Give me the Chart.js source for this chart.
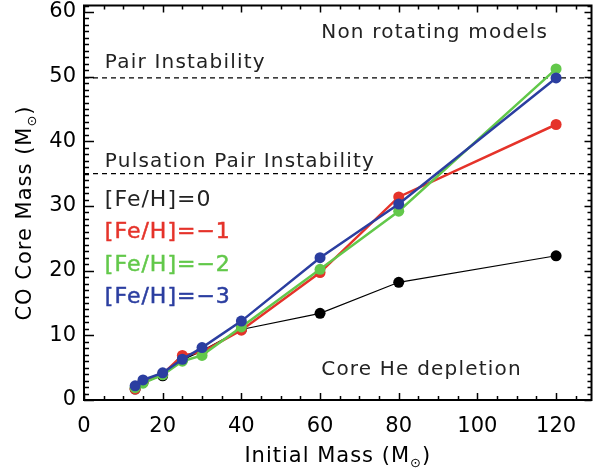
<!DOCTYPE html>
<html>
<head>
<meta charset="utf-8">
<script src="https://cdn.jsdelivr.net/npm/chart.js@4/dist/chart.umd.min.js"></script>
<style>
  body { margin: 0; background: #fff; }
</style>
</head>
<body>
<canvas id="coreChart" width="597" height="470"></canvas>
<script>
// Initial masses of the non rotating models (Msun)
const masses = [13, 15, 20, 25, 30, 40, 60, 80, 120];

// CO core mass at core He depletion for each metallicity
const coreFe0 = [1.7, 2.8, 3.75, 6.2, 7.6, 10.9, 13.4, 18.2, 22.3];
const coreFe1 = [1.7, 2.7, 4.0, 6.9, 7.4, 10.8, 19.7, 31.4, 42.6];
const coreFe2 = [1.9, 2.6, 3.9, 6.0, 6.9, 11.3, 20.2, 29.2, 51.2];
const coreFe3 = [2.2, 3.1, 4.2, 6.3, 8.1, 12.2, 22.0, 30.3, 49.8];

// Instability thresholds (horizontal dashed lines)
const pairLimit = 49.8;
const pulsationLimit = 35.0;

// Axis ranges and tick values
const xRange = [0, 129];
const yRange = [0, 61];
const xTicks = [0, 20, 40, 60, 80, 100, 120];
const yTicks = [0, 10, 20, 30, 40, 50, 60];

const seriesNames = ['[Fe/H]=0', '[Fe/H]=\u22121', '[Fe/H]=\u22122', '[Fe/H]=\u22123'];
const seriesColors = ['#000000', '#e5332a', '#62c84a', '#2b3ea0'];

const FONT = "'DejaVu Sans', sans-serif";

function pts(ys) {
  return masses.map((m, i) => ({ x: m, y: ys[i] }));
}

function series(name, ys, color, width, order) {
  return {
    label: name,
    data: pts(ys),
    borderColor: color,
    backgroundColor: color,
    borderWidth: width,
    pointRadius: 5.5,
    pointHoverRadius: 5.5,
    pointBorderWidth: 0,
    order: order
  };
}

function threshold(y) {
  return {
    label: 'limit',
    data: [{ x: xRange[0], y: y }, { x: xRange[1], y: y }],
    borderColor: '#000',
    borderWidth: 1.2,
    borderDash: [5, 4],
    pointRadius: 0,
    order: 5
  };
}

// text placed in data coordinates: [text, x, baseline y]
const notes = [
  ['Non rotating models', 60.3, 55.9],
  ['Pair Instability', 5.3, 51.3],
  ['Pulsation Pair Instability', 5.3, 36.1],
  ['Core He depletion', 60.3, 3.86]
];

function drawText(ctx, text, x, y, font, color, spacing, heavy) {
  ctx.save();
  ctx.font = font;
  ctx.fillStyle = color;
  ctx.letterSpacing = spacing + 'px';
  ctx.textAlign = 'left';
  ctx.textBaseline = 'alphabetic';
  ctx.fillText(text, x, y);
  if (heavy) {
    ctx.strokeStyle = color;
    ctx.lineWidth = heavy;
    ctx.strokeText(text, x, y);
  }
  ctx.restore();
}

// "label (M_sun)" title, centred on (cx, baseline)
function drawMassTitle(ctx, text, cx, baseline) {
  ctx.save();
  ctx.letterSpacing = '1px';
  ctx.fillStyle = '#000';
  const main = '21px ' + FONT, sub = '13px ' + FONT;
  ctx.font = main;
  const w1 = ctx.measureText(text + ' (M').width;
  const w3 = ctx.measureText(')').width;
  ctx.font = sub;
  const w2 = ctx.measureText('\u2299').width;
  let x = cx - (w1 + w2 + w3) / 2;
  ctx.textBaseline = 'alphabetic';
  ctx.font = main;
  ctx.fillText(text + ' (M', x, baseline);
  x += w1;
  ctx.font = sub;
  ctx.fillText('\u2299', x, baseline + 5);
  x += w2;
  ctx.font = main;
  ctx.fillText(')', x, baseline);
  ctx.restore();
}

const framePlugin = {
  id: 'frame',
  afterDraw(chart) {
    const { ctx, chartArea: a, scales: { x, y } } = chart;
    ctx.save();
    ctx.strokeStyle = '#000';

    // minor and major ticks pointing inward on all four sides
    ctx.lineWidth = 1.5;
    ctx.beginPath();
    for (let v = xRange[0]; v <= xRange[1]; v += 5) {
      const px = Math.round(x.getPixelForValue(v)) + 0.5;
      const len = v % 20 === 0 ? 7 : 4;
      ctx.moveTo(px, a.bottom); ctx.lineTo(px, a.bottom - len);
      ctx.moveTo(px, a.top); ctx.lineTo(px, a.top + len);
    }
    for (let v = yRange[0]; v <= yRange[1]; v += 1) {
      const py = Math.round(y.getPixelForValue(v)) + 0.5;
      const major = v % 10 === 0;
      ctx.moveTo(a.left, py); ctx.lineTo(a.left + (major ? 10 : 5), py);
      ctx.moveTo(a.right, py); ctx.lineTo(a.right - (major ? 7 : 4), py);
    }
    ctx.stroke();

    ctx.lineWidth = 2;
    ctx.strokeRect(a.left, a.top, a.right - a.left, a.bottom - a.top);
    ctx.restore();

    notes.forEach(([t, vx, vy]) => {
      drawText(ctx, t, x.getPixelForValue(vx), y.getPixelForValue(vy),
        '20px ' + FONT, '#222', 1.2, 0);
    });

    // metallicity key
    seriesNames.forEach((t, i) => {
      drawText(ctx, t, x.getPixelForValue(5.3), y.getPixelForValue(30 - 5 * i),
        '22px ' + FONT, i === 0 ? '#222' : seriesColors[i], 1, i === 0 ? 0 : 0.5);
    });

    // axis titles
    drawMassTitle(ctx, 'Initial Mass', (a.left + a.right) / 2, 462);
    ctx.save();
    ctx.translate(31, 213);
    ctx.rotate(-Math.PI / 2);
    drawMassTitle(ctx, 'CO Core Mass', 0, 0);
    ctx.restore();
  }
};

const ctx = document.getElementById('coreChart').getContext('2d');

new Chart(ctx, {
  type: 'line',
  data: {
    datasets: [
      series(seriesNames[3], coreFe3, seriesColors[3], 2.5, 0),
      series(seriesNames[2], coreFe2, seriesColors[2], 2.5, 1),
      series(seriesNames[1], coreFe1, seriesColors[1], 2.5, 2),
      series(seriesNames[0], coreFe0, seriesColors[0], 1.2, 3),
      threshold(pairLimit),
      threshold(pulsationLimit)
    ]
  },
  options: {
    responsive: false,
    animation: false,
    layout: { padding: { top: 5, right: 4, left: 0, bottom: 0 } },
    plugins: {
      legend: { display: false },
      tooltip: { enabled: false }
    },
    scales: {
      x: {
        type: 'linear',
        min: xRange[0],
        max: xRange[1],
        grid: { display: false, drawTicks: false },
        border: { display: false },
        afterBuildTicks: s => { s.ticks = xTicks.map(v => ({ value: v })); },
        afterFit: s => { s.height = 70; s.paddingLeft = 0; s.paddingRight = 0; },
        ticks: {
          padding: 14,
          color: '#000',
          maxRotation: 0,
          font: { family: FONT, size: 21 }
        }
      },
      y: {
        type: 'linear',
        min: yRange[0],
        max: yRange[1],
        grid: { display: false, drawTicks: false },
        border: { display: false },
        afterBuildTicks: s => { s.ticks = yTicks.map(v => ({ value: v })); },
        afterFit: s => { s.width = 84; s.paddingTop = 0; s.paddingBottom = 0; },
        ticks: {
          padding: 8,
          color: '#000',
          font: { family: FONT, size: 21 }
        }
      }
    }
  },
  plugins: [framePlugin]
});
</script>
</body>
</html>
